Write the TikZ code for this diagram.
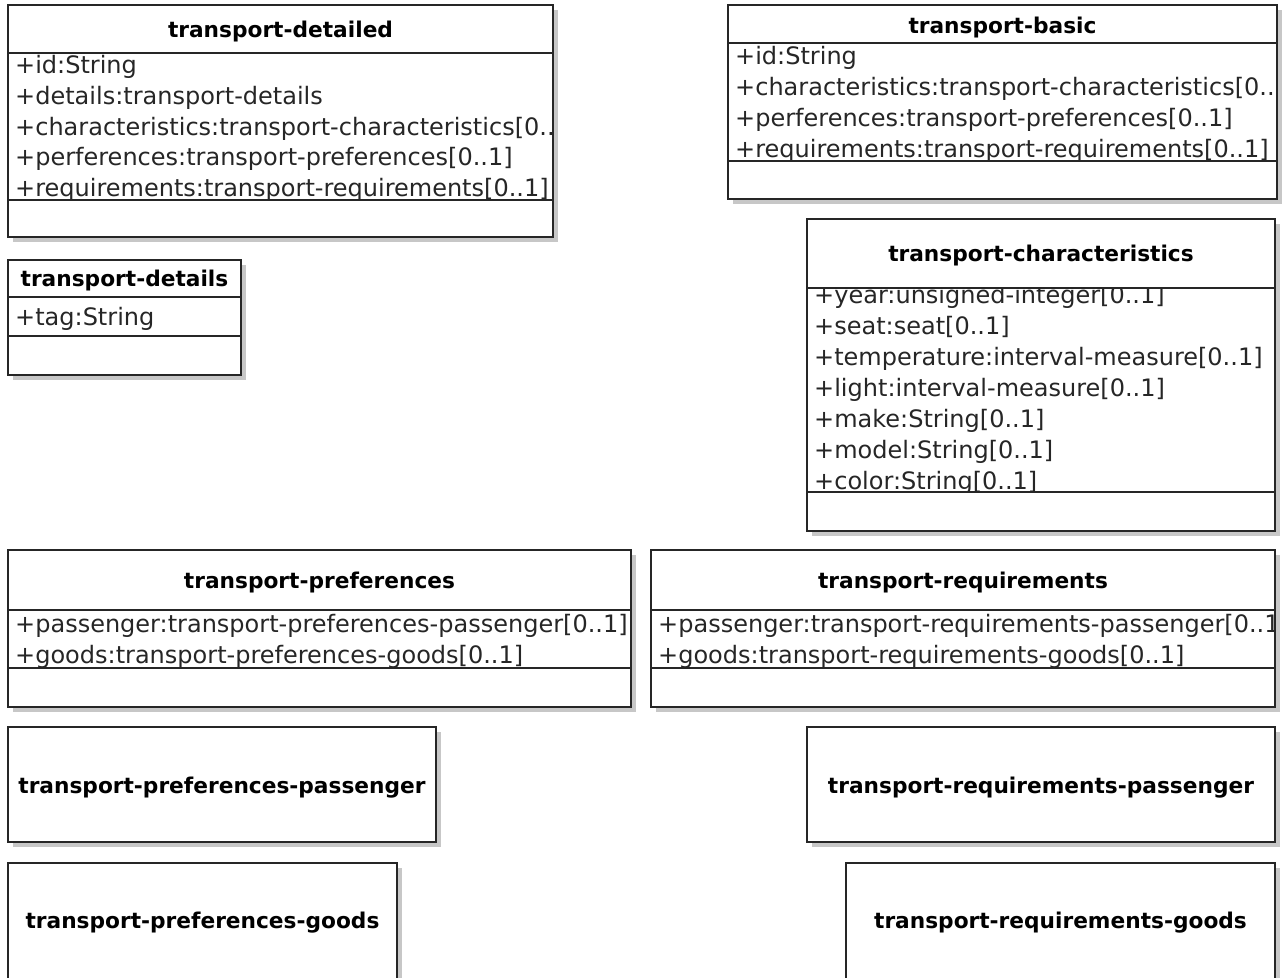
\documentclass[tikz,border=0pt]{standalone}
\usepackage{fontspec}
\setmainfont{DejaVu Sans}
\usepackage{xcolor}
\usetikzlibrary{positioning}

\definecolor{boxline}{gray}{0.15}
\definecolor{boxshadow}{gray}{0.78}

\newcommand{\attrfont}{\fontsize{24}{29}\selectfont}
\newcommand{\headfont}{\fontsize{21.7}{26}\selectfont\bfseries}

\tikzset{
	umlbox/.style={draw=boxline, line width=1.5pt},
	umlshadow/.style={fill=boxshadow},
	headtext/.style={anchor=base, inner sep=0pt, font=\headfont},
	attrtext/.style={anchor=base west, inner sep=0pt, font=\attrfont, text=black!85}
}

\begin{document}
\begin{tikzpicture}[x=1pt, y=-1pt]
		\clip (0,0) rectangle (1282,977);		% page
		\fill[white] (0,0) rectangle (1282,977);

		% transport-detailed
		\fill[umlshadow] (13,10) rectangle (558,242);
		\fill[white] (8,5) rectangle (553,237);
		\node[headtext] (detailedHead) at (280.5,37) {transport-detailed};
		\begin{scope}
			\clip (8,53) rectangle (553,200);
			\node[attrtext] (detailedId) at (15,73) {+id:String};
			\node[attrtext] (detailedDetails) at (15,104) {+details:transport-details};
			\node[attrtext] (detailedChar) at (15,135) {+characteristics:transport-characteristics[0..1]};
			\node[attrtext] (detailedPref) at (15,165) {+perferences:transport-preferences[0..1]};
			\node[attrtext] (detailedReq) at (15,196) {+requirements:transport-requirements[0..1]};
		\end{scope}
		\draw[umlbox] (8,5) rectangle (553,237);
		\draw[umlbox] (8,53) -- (553,53);		% header line
		\draw[umlbox] (8,200) -- (553,200);		% attribute line

		% transport-basic
		\fill[umlshadow] (733,10) rectangle (1282,204);
		\fill[white] (728,5) rectangle (1277,199);
		\node[headtext] (basicHead) at (1002.5,33) {transport-basic};
		\begin{scope}
			\clip (728,43) rectangle (1277,161);
			\node[attrtext] (basicId) at (735,64) {+id:String};
			\node[attrtext] (basicChar) at (735,95) {+characteristics:transport-characteristics[0..1]};
			\node[attrtext] (basicPref) at (735,126) {+perferences:transport-preferences[0..1]};
			\node[attrtext] (basicReq) at (735,157) {+requirements:transport-requirements[0..1]};
		\end{scope}
		\draw[umlbox] (728,5) rectangle (1277,199);
		\draw[umlbox] (728,43) -- (1277,43);
		\draw[umlbox] (728,161) -- (1277,161);

		% transport-details
		\fill[umlshadow] (13,265) rectangle (246,380);
		\fill[white] (8,260) rectangle (241,375);
		\node[headtext] (detailsHead) at (124.5,286) {transport-details};
		\begin{scope}
			\clip (8,297) rectangle (241,336);
			\node[attrtext] (detailsTag) at (15,325) {+tag:String};
		\end{scope}
		\draw[umlbox] (8,260) rectangle (241,375);
		\draw[umlbox] (8,297) -- (241,297);
		\draw[umlbox] (8,336) -- (241,336);

		% transport-characteristics
		\fill[umlshadow] (812,224) rectangle (1280,536);
		\fill[white] (807,219) rectangle (1275,531);
		\node[headtext] (charHead) at (1041,261) {transport-characteristics};
		\begin{scope}
			\clip (807,288) rectangle (1275,492);
			\node[attrtext] (charYear) at (814,303) {+year:unsigned-integer[0..1]};
			\node[attrtext] (charSeat) at (814,334) {+seat:seat[0..1]};
			\node[attrtext] (charTemp) at (814,365) {+temperature:interval-measure[0..1]};
			\node[attrtext] (charLight) at (814,396) {+light:interval-measure[0..1]};
			\node[attrtext] (charMake) at (814,427) {+make:String[0..1]};
			\node[attrtext] (charModel) at (814,458) {+model:String[0..1]};
			\node[attrtext] (charColor) at (814,489) {+color:String[0..1]};
		\end{scope}
		\draw[umlbox] (807,219) rectangle (1275,531);
		\draw[umlbox] (807,288) -- (1275,288);
		\draw[umlbox] (807,492) -- (1275,492);

		% transport-preferences
		\fill[umlshadow] (13,555) rectangle (636,712);
		\fill[white] (8,550) rectangle (631,707);
		\node[headtext] (prefHead) at (319.5,588) {transport-preferences};
		\begin{scope}
			\clip (8,610) rectangle (631,668);
			\node[attrtext] (prefPassenger) at (15,632) {+passenger:transport-preferences-passenger[0..1]};
			\node[attrtext] (prefGoods) at (15,663) {+goods:transport-preferences-goods[0..1]};
		\end{scope}
		\draw[umlbox] (8,550) rectangle (631,707);
		\draw[umlbox] (8,610) -- (631,610);
		\draw[umlbox] (8,668) -- (631,668);

		% transport-requirements
		\fill[umlshadow] (656,555) rectangle (1280,712);
		\fill[white] (651,550) rectangle (1275,707);
		\node[headtext] (reqHead) at (963,588) {transport-requirements};
		\begin{scope}
			\clip (651,610) rectangle (1275,668);
			\node[attrtext] (reqPassenger) at (658,632) {+passenger:transport-requirements-passenger[0..1]};
			\node[attrtext] (reqGoods) at (658,663) {+goods:transport-requirements-goods[0..1]};
		\end{scope}
		\draw[umlbox] (651,550) rectangle (1275,707);
		\draw[umlbox] (651,610) -- (1275,610);
		\draw[umlbox] (651,668) -- (1275,668);

		% header-only classes
		\fill[umlshadow] (13,732) rectangle (441,847);
		\filldraw[umlbox, fill=white] (8,727) rectangle (436,842);
		\node[headtext] (prefPassengerHead) at (222,793) {transport-preferences-passenger};

		\fill[umlshadow] (13,868) rectangle (402,1000);
		\filldraw[umlbox, fill=white] (8,863) rectangle (397,1000);
		\node[headtext] (prefGoodsHead) at (202.5,928) {transport-preferences-goods};

		\fill[umlshadow] (812,732) rectangle (1280,847);
		\filldraw[umlbox, fill=white] (807,727) rectangle (1275,842);
		\node[headtext] (reqPassengerHead) at (1041,793) {transport-requirements-passenger};

		\fill[umlshadow] (851,868) rectangle (1280,1000);
		\filldraw[umlbox, fill=white] (846,863) rectangle (1275,1000);
		\node[headtext] (reqGoodsHead) at (1060.5,928) {transport-requirements-goods};
\end{tikzpicture}
\end{document}
